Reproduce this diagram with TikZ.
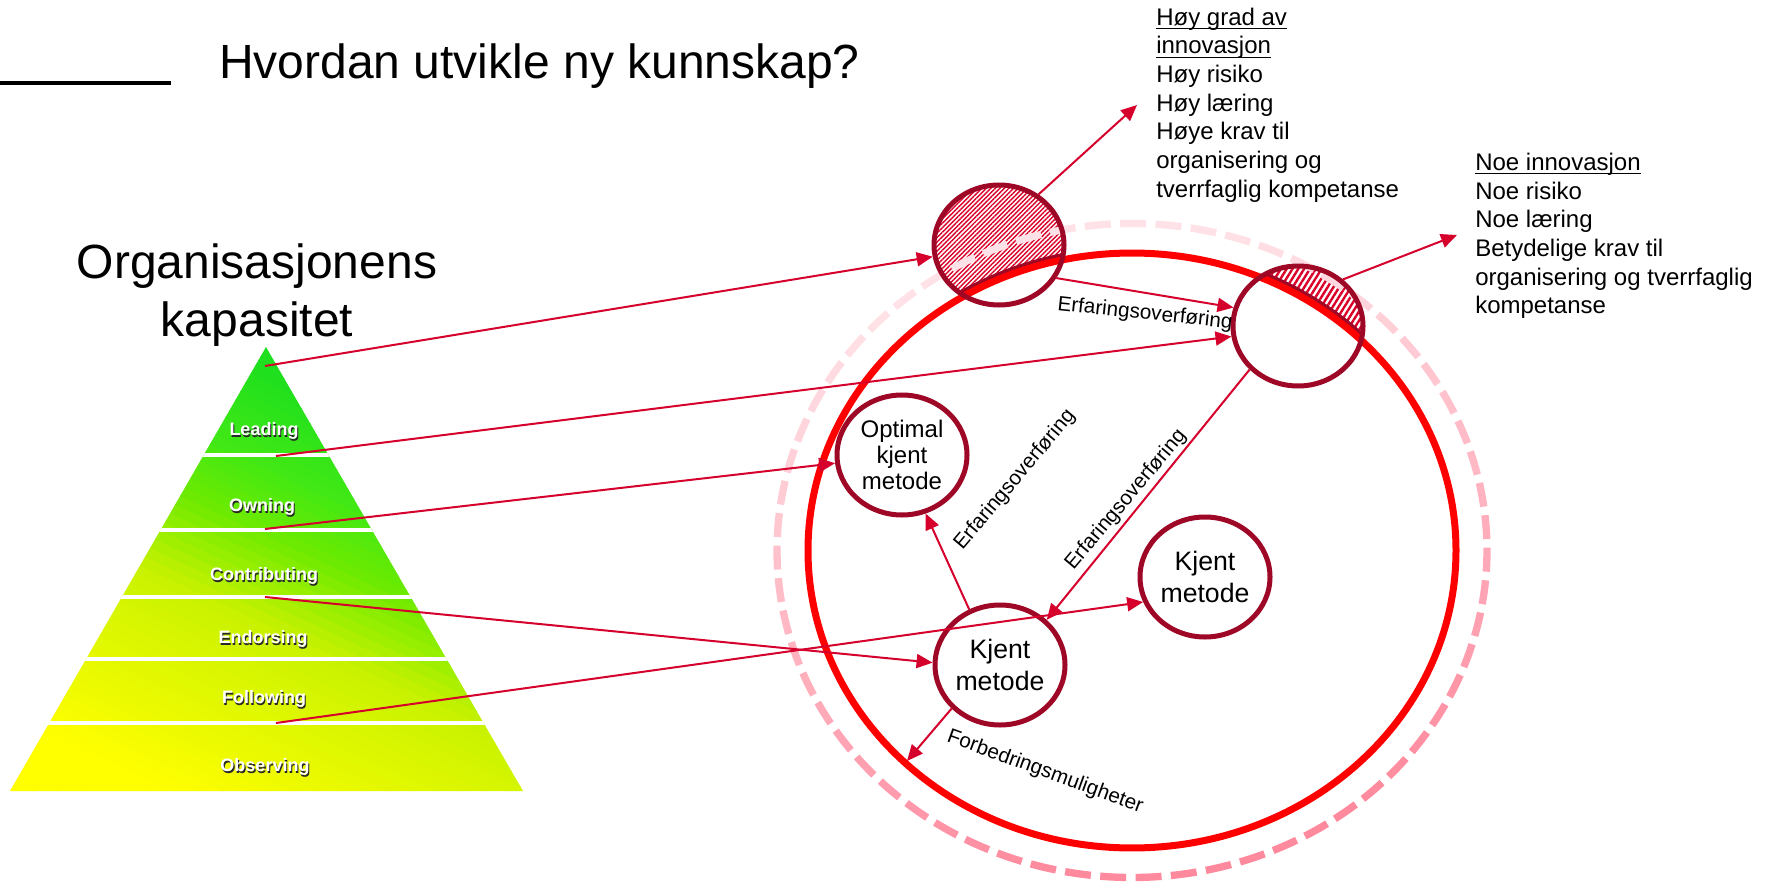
\documentclass[tikz,border=0pt]{standalone}
\usepackage{fontspec}
\setmainfont{Liberation Sans}
\usetikzlibrary{arrows.meta,shapes.geometric,patterns.meta}

\definecolor{conn}{RGB}{214,0,44}
\definecolor{circ}{RGB}{158,8,38}
\definecolor{bigred}{RGB}{255,0,0}
\definecolor{pinkL}{RGB}{255,226,231}
\definecolor{pinkD}{RGB}{255,138,158}
\definecolor{hatchred}{RGB}{218,0,40}
\definecolor{shadowgray}{RGB}{40,40,40}
\definecolor{pyr0}{RGB}{255,255,0}
\definecolor{pyr1}{RGB}{255,255,0}
\definecolor{pyr2}{RGB}{200,242,0}
\definecolor{pyr3}{RGB}{110,234,0}
\definecolor{pyr4}{RGB}{64,232,21}
\definecolor{pyr5}{RGB}{30,224,30}
\definecolor{pyr6}{RGB}{30,224,30}

\newcommand\pptul[1]{\setbox0\hbox{#1}\rlap{\rule[-3pt]{\wd0}{0.9pt}}\box0}
\newcommand\pyrlab[1]{\rlap{\kern0.8pt\raisebox{-1.1pt}{\textcolor{shadowgray}{#1}}}#1}

\tikzset{
  smallc/.style={ellipse, draw=circ, line width=3.75pt, minimum width=97.5pt,
    minimum height=90pt, inner sep=0pt, align=center},
  conarrow/.style={draw=conn, line width=1.5pt, -{Triangle[length=12pt,width=10.5pt]}},
  lbl/.style={font=\fontsize{15.5}{18}\selectfont, inner sep=0pt},
  pyrlbl/.style={text=white, font=\bfseries\fontsize{13.5}{16}\selectfont, inner sep=0pt},
  infotext/.style={align=left, anchor=north west, inner sep=0pt, font=\fontsize{18}{21.5}\selectfont},
  cfont/.style={font=\fontsize{20}{24}\selectfont},
}

\begin{document}
\begin{tikzpicture}[x=0.75pt,y=-0.75pt]
\useasboundingbox[fill=white] (0,0) rectangle (1775,885);

% ---- title ----
\draw[black, line width=2.4pt] (0,83) -- (171,83);
\node[anchor=base west, inner sep=0pt, font=\fontsize{36}{43}\selectfont] (title) at (219,78) {Hvordan utvikle ny kunnskap?};
\node[align=center, anchor=north, inner sep=0pt, font=\fontsize{36}{43.5}\selectfont] (org) at (257,243.5) {Organisasjonens\\kapasitet};

% ---- pyramid ----
\begin{scope}
  \clip (266,347) -- (523,791) -- (10,791) -- cycle;
  \begin{scope}[rotate around={-25:(266,569)}]
    \foreach \k in {0,...,63} {
      \pgfmathsetmacro\f{(\k+0.5)/64}
      \pgfmathtruncatemacro\seg{(\f>=0.12)+(\f>=0.42)+(\f>=0.55)+(\f>=0.65)+(\f>=0.78)}
      \pgfmathsetmacro\lo{{0,0.12,0.42,0.55,0.65,0.78}[\seg]}
      \pgfmathsetmacro\hi{{0.12,0.42,0.55,0.65,0.78,1}[\seg]}
      \pgfmathtruncatemacro\t{100*(\f-\lo)/(\hi-\lo)}
      \pgfmathtruncatemacro\segn{\seg+1}
      \fill[pyr\segn!\t!pyr\seg] (-134,889-10*\k) rectangle (666,878.4-10*\k);
    }
  \end{scope}
  \foreach \yy in {455,530,597,659,723} {
    \draw[white, line width=2.4pt] (0,\yy) -- (540,\yy);
  }
\end{scope}
\node[pyrlbl] (lead) at (264,432) {\pyrlab{Leading}};
\node[pyrlbl] (own) at (262,508) {\pyrlab{Owning}};
\node[pyrlbl] (contr) at (264,577) {\pyrlab{Contributing}};
\node[pyrlbl] (endo) at (263,640) {\pyrlab{Endorsing}};
\node[pyrlbl] (foll) at (264,700) {\pyrlab{Following}};
\node[pyrlbl] (obs) at (265,768) {\pyrlab{Observing}};

\coordinate (p1) at (265,366);
\coordinate (p2) at (276,456);
\coordinate (p3) at (265,529);
\coordinate (p4) at (265,597);
\coordinate (p5) at (276,723);

% ---- hatched parts ----
\begin{scope}
  \clip (999,245) ellipse [x radius=48.75pt, y radius=45pt];
  \fill[pattern={Lines[angle=45,distance=2.4pt,line width=1.05pt]}, pattern color=hatchred] (920,170) rectangle (1080,320);
\end{scope}
\begin{scope}
  \clip (1298,326) ellipse [x radius=48.75pt, y radius=45pt];
  \fill[pattern={Lines[angle=58,distance=3.7pt,line width=1.8pt]}, pattern color=hatchred] (1220,250) rectangle (1380,400);
\end{scope}
\fill[white] (1132,550.5) ellipse [x radius=243pt, y radius=223.1pt];
\begin{scope}
  \clip (999,245) ellipse [x radius=48.75pt, y radius=45pt] (1298,326) ellipse [x radius=48.75pt, y radius=45pt];
  \draw[circ, line width=3pt] (1132,550.5) ellipse [x radius=246.5pt, y radius=226.6pt];
\end{scope}

% ---- big red ellipse ----
\draw[bigred, line width=5.25pt] (1132,550.5) ellipse [x radius=243pt, y radius=223.1pt];

% ---- dashed pink ellipse ----
\foreach \i in {0,...,62} {
  \pgfmathsetmacro\a{\i*5.7143+2}
  \pgfmathtruncatemacro\p{max(0,min(100,50-55*sin(\a)+12*cos(\a)))}
  \draw[line width=5.5pt, pinkD!\p!pinkL] (1132,550.5) ++(\a:266.25pt and 245.25pt)
    arc[start angle=\a, delta angle=4.2, x radius=266.25pt, y radius=245.25pt];
}

% ---- small circles ----
\node[smallc] (A) at (999,245) {};
\node[smallc] (B) at (1298,326) {};
\node[smallc, font=\fontsize{18}{19.3}\selectfont] (C) at (902,455) {Optimal\\kjent\\metode};
\node[smallc, cfont] (D) at (1000,665) {Kjent\\metode};
\node[smallc, cfont] (E) at (1205,577) {Kjent\\metode};

\coordinate (q1) at (1137,105);
\coordinate (q2) at (1457,235);
\coordinate (q3) at (907,761);

% ---- connectors ----
\draw[conarrow] (p1) -- (A.190);
\draw[conarrow] (p2) -- (B.189);
\draw[conarrow] (p3) -- (C.187);
\draw[conarrow] (p4) -- (D.178);
\draw[conarrow] (p5) -- (E.202);
\draw[conarrow] (A.52) -- (q1);
\draw[conarrow] (A.-30) -- (B.164);
\draw[conarrow] (B.46) -- (q2);
\draw[conarrow] (B.222) -- (D.44);
\draw[conarrow] (D.119) -- (C.292);
\draw[conarrow] (D.222) -- (q3);

% ---- connector labels ----
\node[lbl, rotate=-6] (l1) at (1145,314) {Erfaringsoverføring};
\node[lbl, rotate=50] (l2) at (1015,480) {Erfaringsoverføring};
\node[lbl, rotate=50] (l3) at (1126,500) {Erfaringsoverføring};
\node[lbl, rotate=-20] (l4) at (1045,772) {Forbedringsmuligheter};

% ---- info texts ----
\node[infotext] (info1) at (1156,7.5) {\pptul{Høy grad av}\\\pptul{innovasjon}\\Høy risiko\\Høy læring\\Høye krav til\\organisering og\\tverrfaglig kompetanse};
\node[infotext] (info2) at (1475,152.8) {\pptul{Noe innovasjon}\\Noe risiko\\Noe læring\\Betydelige krav til\\organisering og tverrfaglig\\kompetanse};
\end{tikzpicture}
\end{document}
